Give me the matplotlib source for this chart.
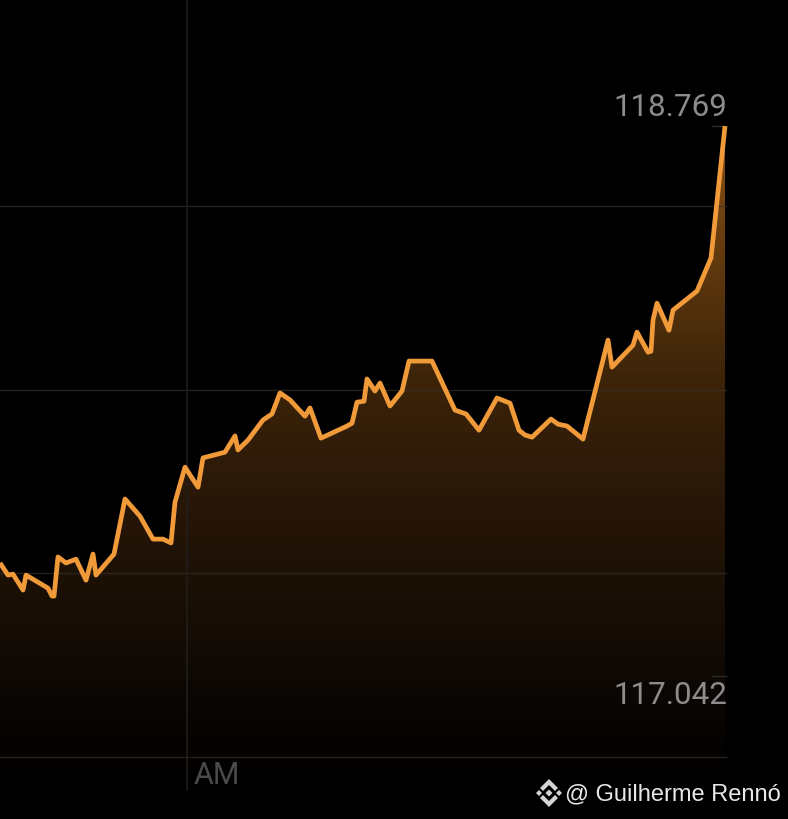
import numpy as np
import matplotlib
matplotlib.use("Agg")
import matplotlib.pyplot as plt
from matplotlib.colors import LinearSegmentedColormap
from matplotlib.patches import Polygon

# minutes relative to the AM marker
minutes = [-187,-179,-174,-164,-161,-139,-135,-133,-129,-121,-111,-101,-94,-91,-73,-62,-47,-34,-24,-16,
           -12,-2,11,16,38,48,51,61,76,85,93,103,118,123,134,160,165,170,177,180,188,193,203,215,222,
           245,268,279,292,310,323,332,338,345,364,371,380,396,421,425,446,450,461,464,466,470,482,486,490,510,524,538]
price = [117.397,117.359,117.362,117.312,117.359,117.318,117.293,117.293,117.416,117.397,117.409,117.343,
         117.425,117.359,117.425,117.598,117.544,117.472,117.472,117.460,117.588,117.698,117.635,117.727,
         117.745,117.796,117.752,117.783,117.846,117.865,117.931,117.909,117.858,117.884,117.789,117.827,
         117.836,117.902,117.905,117.975,117.937,117.962,117.890,117.937,118.031,118.031,117.877,117.865,
         117.814,117.915,117.899,117.814,117.799,117.792,117.849,117.833,117.827,117.786,118.097,118.012,
         118.081,118.122,118.059,118.062,118.160,118.213,118.128,118.191,118.201,118.251,118.355,118.769]
grid_levels = [118.518, 117.940, 117.365, 116.787]
high_label, low_label = "118.769", "117.042"
high_value, low_value = 118.769, 117.042
session_label = "AM"
credit = "@ Guilherme Rennó"

W, H = 788, 819
fig = plt.figure(figsize=(W/100, H/100), dpi=100, facecolor="black")
ax = fig.add_axes([0, 0, 1, 1], facecolor="black")
ymax, ymin = 119.165, 116.593
ax.axis("off")

# gradient area under the line
cmap = LinearSegmentedColormap.from_list("g", [(0.0, "#000000"), (0.12, "#0a0603"), (0.45, "#2a1808"),
                                               (0.62, "#3d2409"), (0.85, "#6b3f10"), (1.0, "#8a5216")])
base = 116.70
grad = np.linspace(0, 1, 256).reshape(-1, 1)
im = ax.imshow(grad, origin="lower", extent=[-187, 539, base, max(price)], aspect="auto", cmap=cmap, zorder=1)
poly = Polygon(list(zip(minutes, price)) + [(minutes[-1], base), (minutes[0], base)], closed=True,
               transform=ax.transData, fc="none", ec="none")
ax.add_patch(poly)
im.set_clip_path(poly)
ax.set_xlim(-187, 601)
ax.set_ylim(ymin, ymax)

for g in grid_levels:
    ax.plot([-187, 539], [g, g], color="#38322b", lw=1.0, alpha=0.65, zorder=2)
ax.plot([0, 0], [ymin + 0.09, ymax], color="#1f1e1c", lw=1.2, zorder=2)
for v in (high_value, low_value):
    ax.plot([525, 539], [v, v], color="#2e2a26", lw=1.0, zorder=2)

ax.plot(minutes, price, color="#f19a3a", lw=3.4, solid_joinstyle="round", solid_capstyle="butt", zorder=4)

tf = dict(family="Roboto", color="#8c8c8c", fontsize=22.6)
fig.text(727/W, 1 - 107/H, high_label, ha="right", va="center", **tf)
fig.text(727/W, 1 - 696/H, low_label, ha="right", va="center", **tf)
fig.text(194/W, 1 - 776/H, session_label, ha="left", va="center", family="Roboto", color="#4a4a4a", fontsize=22)

# credit with logo
fig.text(565/W, 1 - 794/H, credit, ha="left", va="center", family="Liberation Sans", color="#e8e8e8", fontsize=17)
c = (549, 793)
def shape(pts):
    fig.patches.append(Polygon([(x/W, 1 - y/H) for x, y in pts], closed=True, transform=fig.transFigure,
                               fc="#d4d4d4", ec="none", figure=fig))
def diamond(cx, cy, r):
    shape([(cx - r, cy), (cx, cy - r), (cx + r, cy), (cx, cy + r)])
diamond(c[0], c[1], 3.5)
diamond(c[0] - 10, c[1], 3)
diamond(c[0] + 10, c[1], 3)
def chevron(sign):
    cx, cy = c
    shape([(cx - 9, cy + sign*5), (cx, cy + sign*14), (cx + 9, cy + sign*5), (cx + 6, cy + sign*2),
           (cx, cy + sign*8), (cx - 6, cy + sign*2)])
chevron(1); chevron(-1)

fig.savefig("out.png", dpi=100, facecolor="black")
